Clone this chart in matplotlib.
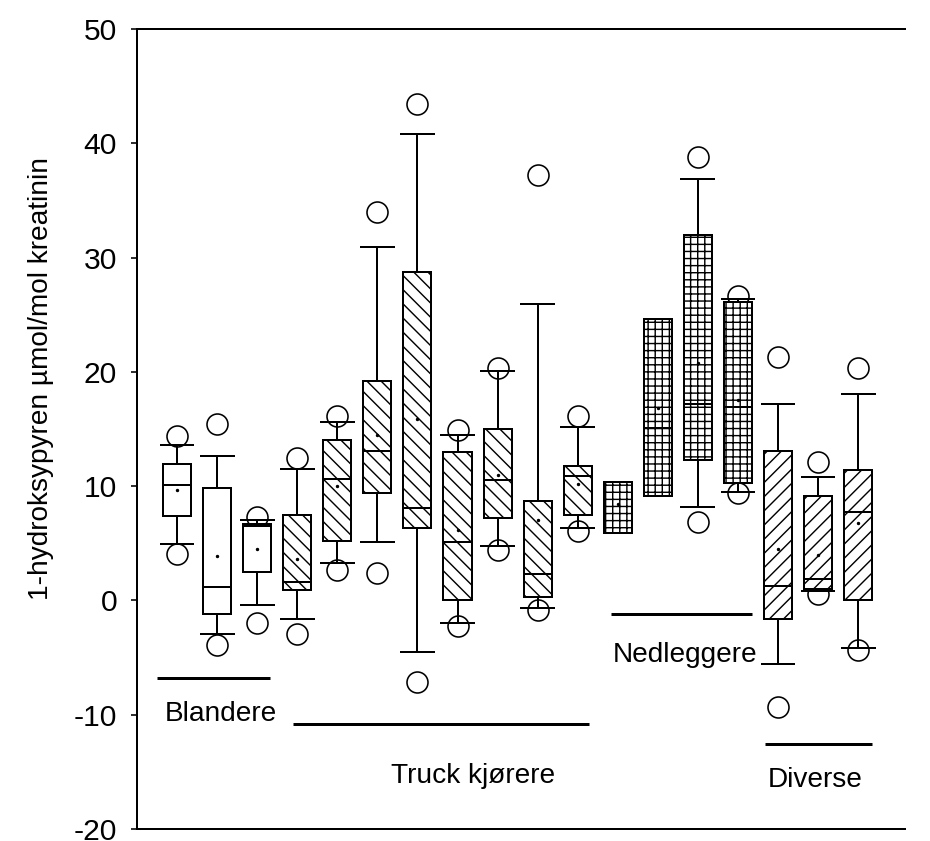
import matplotlib
matplotlib.use("Agg")
import matplotlib.pyplot as plt

plt.rcParams['font.family'] = ['Liberation Sans', 'DejaVu Sans']
plt.rcParams['hatch.linewidth'] = 1.2
plt.rcParams['hatch.color'] = 'black'
plt.rcParams['axes.unicode_minus'] = False

DPI = 85

# Box statistics per group member (1-hydroksypyren, µmol/mol kreatinin)
positions = list(range(1, 19))
whislo = [4.9, -2.9, -0.4, -1.6, 3.3, 5.1, -4.5, -2.0, 4.8, -0.7, 6.3, 5.9, 9.1, 8.2, 9.5, -5.6, 0.8, -4.2]
q1 =     [7.4, -1.2, 2.5, 0.9, 5.2, 9.4, 6.3, 0.0, 7.2, 0.3, 7.5, 5.9, 9.1, 12.3, 10.3, -1.6, 1.0, 0.0]
median = [10.1, 1.2, 6.5, 1.6, 10.6, 13.1, 8.1, 5.1, 10.5, 2.3, 10.9, 10.4, 15.1, 17.2, 16.9, 1.3, 1.9, 7.7]
q3 =     [11.9, 9.8, 6.7, 7.5, 14.0, 19.2, 28.7, 13.0, 15.0, 8.7, 11.8, 10.4, 24.6, 32.0, 26.1, 13.1, 9.1, 11.4]
whishi = [13.6, 12.6, 7.0, 11.5, 15.6, 30.9, 40.8, 14.5, 20.1, 25.9, 15.2, 10.4, 24.6, 36.9, 26.4, 17.2, 10.8, 18.1]
means =  [9.7, 3.9, 4.5, 3.6, 10.0, 14.5, 15.9, 6.2, 11.0, 7.0, 10.2, 8.4, 16.8, 20.8, 17.5, 4.5, 4.0, 6.8]
fliers = [[14.4, 4.1], [15.4, -3.9], [7.3, -2.0], [12.5, -2.9], [16.1, 2.7],
          [34.0, 2.4], [43.4, -7.1], [14.9, -2.2], [20.3, 4.4], [37.2, -0.8],
          [16.1, 6.1], [], [], [38.8, 6.9], [26.6, 9.4], [21.3, -9.3],
          [12.1, 0.6], [20.3, -4.3]]
hatches = ['', '', '', '\\\\', '\\\\', '\\\\', '\\\\', '\\\\', '\\\\', '\\\\', '\\\\',
           '++', '++', '++', '++', '//', '//', '//']
no_whisker = [12, 13]

# Group annotations: label, underline extent and height, text position
groups = ['Blandere', 'Truck kjørere', 'Nedleggere', 'Diverse']
group_x0 = [0.5, 3.9, 11.83, 15.68]
group_x1 = [3.32, 11.28, 15.35, 18.35]
group_line_y = [-6.8, -10.8, -1.2, -12.6]
group_text_x = [2.1, 8.39, 13.68, 16.93]
group_text_y = [-9.9, -15.4, -4.8, -15.7]

px = 72.0 / DPI  # points per pixel

fig = plt.figure(figsize=(930 / DPI, 841 / DPI), dpi=DPI)
ax = fig.add_axes([137 / 930, 1 - 829 / 841, 768 / 930, 800 / 841])

stats = []
for i in range(len(positions)):
    stats.append(dict(med=median[i], q1=q1[i], q3=q3[i], whislo=whislo[i],
                      whishi=whishi[i], mean=means[i], fliers=fliers[i]))

lw = 2.0 * px
art = ax.bxp(stats, positions=positions, widths=0.7, capwidths=0.82,
             patch_artist=True, showmeans=True, manage_ticks=False,
             boxprops=dict(facecolor='white', edgecolor='black', linewidth=lw),
             medianprops=dict(color='black', linewidth=lw),
             whiskerprops=dict(color='black', linewidth=lw),
             capprops=dict(color='black', linewidth=lw),
             meanprops=dict(marker='o', markersize=2.2 * px, markerfacecolor='black',
                            markeredgecolor='black'),
             flierprops=dict(marker='o', markersize=21 * px, markerfacecolor='none',
                             markeredgecolor='black', markeredgewidth=1.6 * px))

for box, h in zip(art['boxes'], hatches):
    box.set_hatch(h)
    box.set_zorder(2.5)
for line in art['medians'] + art['means']:
    line.set_zorder(3)
for line in art['fliers']:
    line.set_zorder(2)
for p in no_whisker:
    idx = positions.index(p)
    art['caps'][2 * idx].set_visible(False)
    art['caps'][2 * idx + 1].set_visible(False)
    art['whiskers'][2 * idx].set_visible(False)
    art['whiskers'][2 * idx + 1].set_visible(False)

for name, x0, x1, ly, tx, ty in zip(groups, group_x0, group_x1, group_line_y,
                                    group_text_x, group_text_y):
    ax.plot([x0, x1], [ly, ly], color='black', linewidth=3.0 * px, solid_capstyle='butt')
    ax.text(tx, ty, name, ha='center', va='center', fontsize=28 * px)

ax.set_xlim(0, 19.17)
ax.set_ylim(-20, 50)
ax.set_yticks(range(-20, 51, 10))
ax.tick_params(axis='y', direction='out', length=6 * px, width=1.6 * px,
               labelsize=30 * px, pad=14 * px)
ax.set_xticks([])
ax.spines['right'].set_visible(False)
for s in ['left', 'bottom', 'top']:
    ax.spines[s].set_linewidth(2.0 * px)

ylab = ax.set_ylabel('1-hydroksypyren µmol/mol kreatinin', fontsize=28 * px)
ylab.set_verticalalignment('center')
ylab.set_horizontalalignment('center')
ax.yaxis.set_label_coords((41 - 137) / 768, (829 - 378) / 800)

fig.savefig('out.png', dpi=DPI)
